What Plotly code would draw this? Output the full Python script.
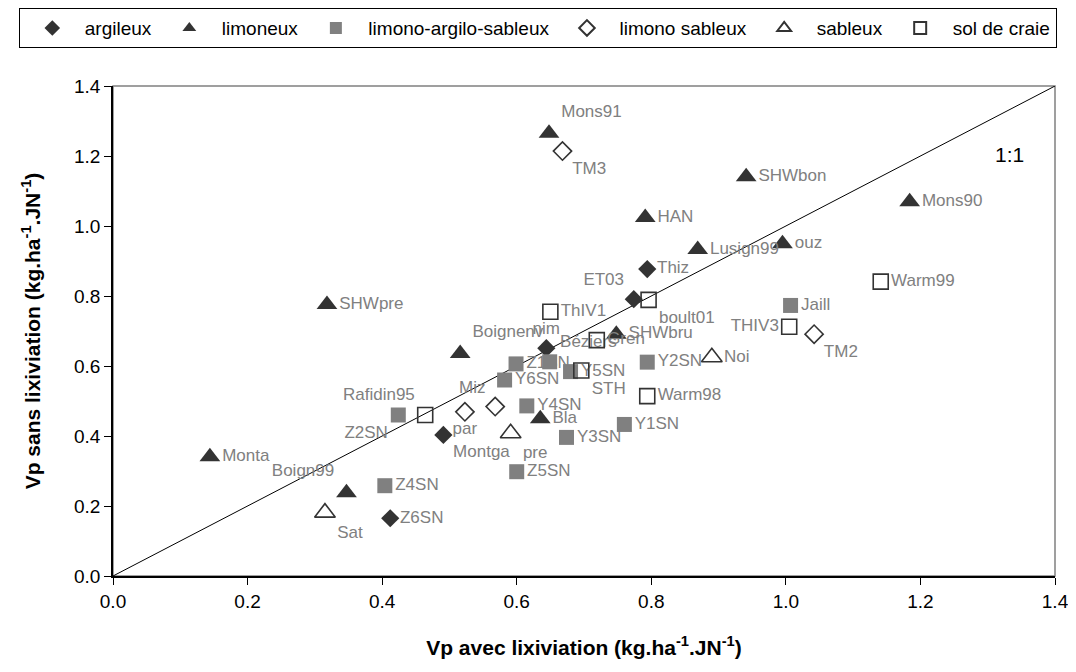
import plotly.graph_objects as go

# --- data ---
arg_names = ["Thiz", "ET03", "nim", "Montga", "Z6SN"]
arg_x = [0.794, 0.774, 0.644, 0.491, 0.412]
arg_y = [0.877, 0.791, 0.651, 0.403, 0.165]

lim_names = ["Mons91", "SHWbon", "HAN", "Lusign99", "ouz", "Mons90", "SHWpre",
             "Boignenv", "SHWbru", "Bla", "Monta", "Boign99"]
lim_x = [0.648, 0.941, 0.791, 0.869, 0.995, 1.184, 0.318, 0.516, 0.748, 0.635, 0.144, 0.347]
lim_y = [1.265, 1.141, 1.024, 0.933, 0.949, 1.069, 0.776, 0.636, 0.691, 0.449, 0.341, 0.238]

las_names = ["Jaill", "Z2SN", "Z1SN", "Béziers", "Y6SN", "Y5SN", "Y4SN", "Y3SN",
             "Y1SN", "Y2SN", "Z5SN", "Z4SN"]
las_x = [1.007, 0.424, 0.599, 0.649, 0.582, 0.680, 0.615, 0.674, 0.760, 0.794, 0.600, 0.404]
las_y = [0.773, 0.460, 0.606, 0.612, 0.560, 0.584, 0.486, 0.396, 0.433, 0.611, 0.298, 0.258]

ls_names = ["TM3", "TM2", "par", "Miz"]
ls_x = [0.668, 1.042, 0.523, 0.568]
ls_y = [1.214, 0.691, 0.469, 0.484]

sab_names = ["pre", "Noi", "Sat"]
sab_x = [0.591, 0.890, 0.315]
sab_y = [0.408, 0.625, 0.181]

craie_names = ["Warm99", "THIV3", "boult01", "ThIV1", "Gren", "STH", "Warm98", "Rafidin95"]
craie_x = [1.141, 1.005, 0.796, 0.650, 0.719, 0.696, 0.794, 0.464]
craie_y = [0.841, 0.712, 0.789, 0.755, 0.674, 0.587, 0.514, 0.460]

diag = [0, 1.4]

# label placement per point
arg_pos = ["middle right", "top left", "top center", "bottom right", "middle right"]
lim_pos = ["top right", "middle right", "middle right", "middle right", "middle right",
           "middle right", "middle right", "top right", "middle right", "middle right",
           "middle right", "top left"]
las_pos = ["middle right", "bottom left", "middle right", "top right", "middle right",
           "middle right", "middle right", "middle right", "middle right", "middle right",
           "middle right", "middle right"]
ls_pos = ["bottom right", "bottom right", "bottom center", "top left"]
sab_pos = ["bottom right", "middle right", "bottom right"]
craie_pos = ["middle right", "middle left", "bottom right", "middle right", "middle right",
             "bottom right", "middle right", "top left"]

DARK = "#333333"
GREY = "#808080"
FONT = "Arial, Liberation Sans, sans-serif"
LABEL = dict(family=FONT, size=17, color="#808080")

fig = go.Figure()

fig.add_trace(go.Scatter(x=diag, y=diag, mode="lines", line=dict(color="black", width=1),
                         showlegend=False, hoverinfo="skip"))

series = [
    ("argileux", arg_x, arg_y, arg_names, arg_pos, dict(symbol="diamond", size=14, color=DARK)),
    ("limoneux", lim_x, lim_y, lim_names, lim_pos, dict(symbol="triangle-up", size=18, color=DARK)),
    ("limono-argilo-sableux", las_x, las_y, las_names, las_pos,
     dict(symbol="square", size=15, color=GREY)),
    ("limono sableux", ls_x, ls_y, ls_names, ls_pos,
     dict(symbol="diamond-open", size=14, color=DARK, line=dict(width=1.6, color=DARK))),
    ("sableux", sab_x, sab_y, sab_names, sab_pos,
     dict(symbol="triangle-up-open", size=18, color=DARK, line=dict(width=1.6, color=DARK))),
    ("sol de craie", craie_x, craie_y, craie_names, craie_pos,
     dict(symbol="square-open", size=15, color=DARK, line=dict(width=1.6, color=DARK))),
]

for name, xs, ys, labels, pos, marker in series:
    fig.add_trace(go.Scatter(
        x=xs, y=ys, mode="markers+text", name=name,
        text=labels, textposition=pos, textfont=LABEL,
        marker=marker
    ))

fig.add_annotation(x=1.333, y=1.203, text="1:1", showarrow=False,
                   font=dict(family=FONT, size=21, color="black"))

fig.add_shape(type="rect", xref="x domain", yref="y domain", x0=0, x1=1, y0=0, y1=1,
              line=dict(color="#808080", width=1.5), layer="below")

axis_font = dict(family=FONT, size=19, color="black")
fig.update_layout(
    width=1060, height=656,
    margin=dict(l=105, r=13, t=78, b=88, autoexpand=False),
    plot_bgcolor="white", paper_bgcolor="white",
    font=dict(family=FONT, size=16, color="black"),
    # legend anchored left of the plot area, above it, so it may span the full width
    legend=dict(orientation="h", x=-0.1, xanchor="left", y=1.159, yanchor="top",
                bordercolor="black", borderwidth=1,
                font=dict(size=19), itemsizing="constant", tracegroupgap=0,
                itemwidth=55),
    xaxis=dict(range=[0, 1.4], dtick=0.2, tickformat=".1f", showgrid=False, zeroline=False,
               showline=True, linecolor="black", linewidth=1.5, ticks="outside",
               ticklen=7, tickcolor="black", tickfont=axis_font, automargin=False,
               ticklabeloverflow="allow",
               title=dict(text="<b>Vp avec lixiviation (kg.ha<sup>-1</sup>.JN<sup>-1</sup>)</b>",
                          font=dict(size=21), standoff=30)),
    yaxis=dict(range=[0, 1.4], dtick=0.2, tickformat=".1f", showgrid=False, zeroline=False,
               showline=True, linecolor="black", linewidth=1.5, ticks="outside",
               ticklen=7, tickcolor="black", tickfont=axis_font, automargin=False,
               title=dict(text="<b>Vp sans lixiviation (kg.ha<sup>-1</sup>.JN<sup>-1</sup>)</b>",
                          font=dict(size=21), standoff=28)),
)

fig.write_html("out.html")
